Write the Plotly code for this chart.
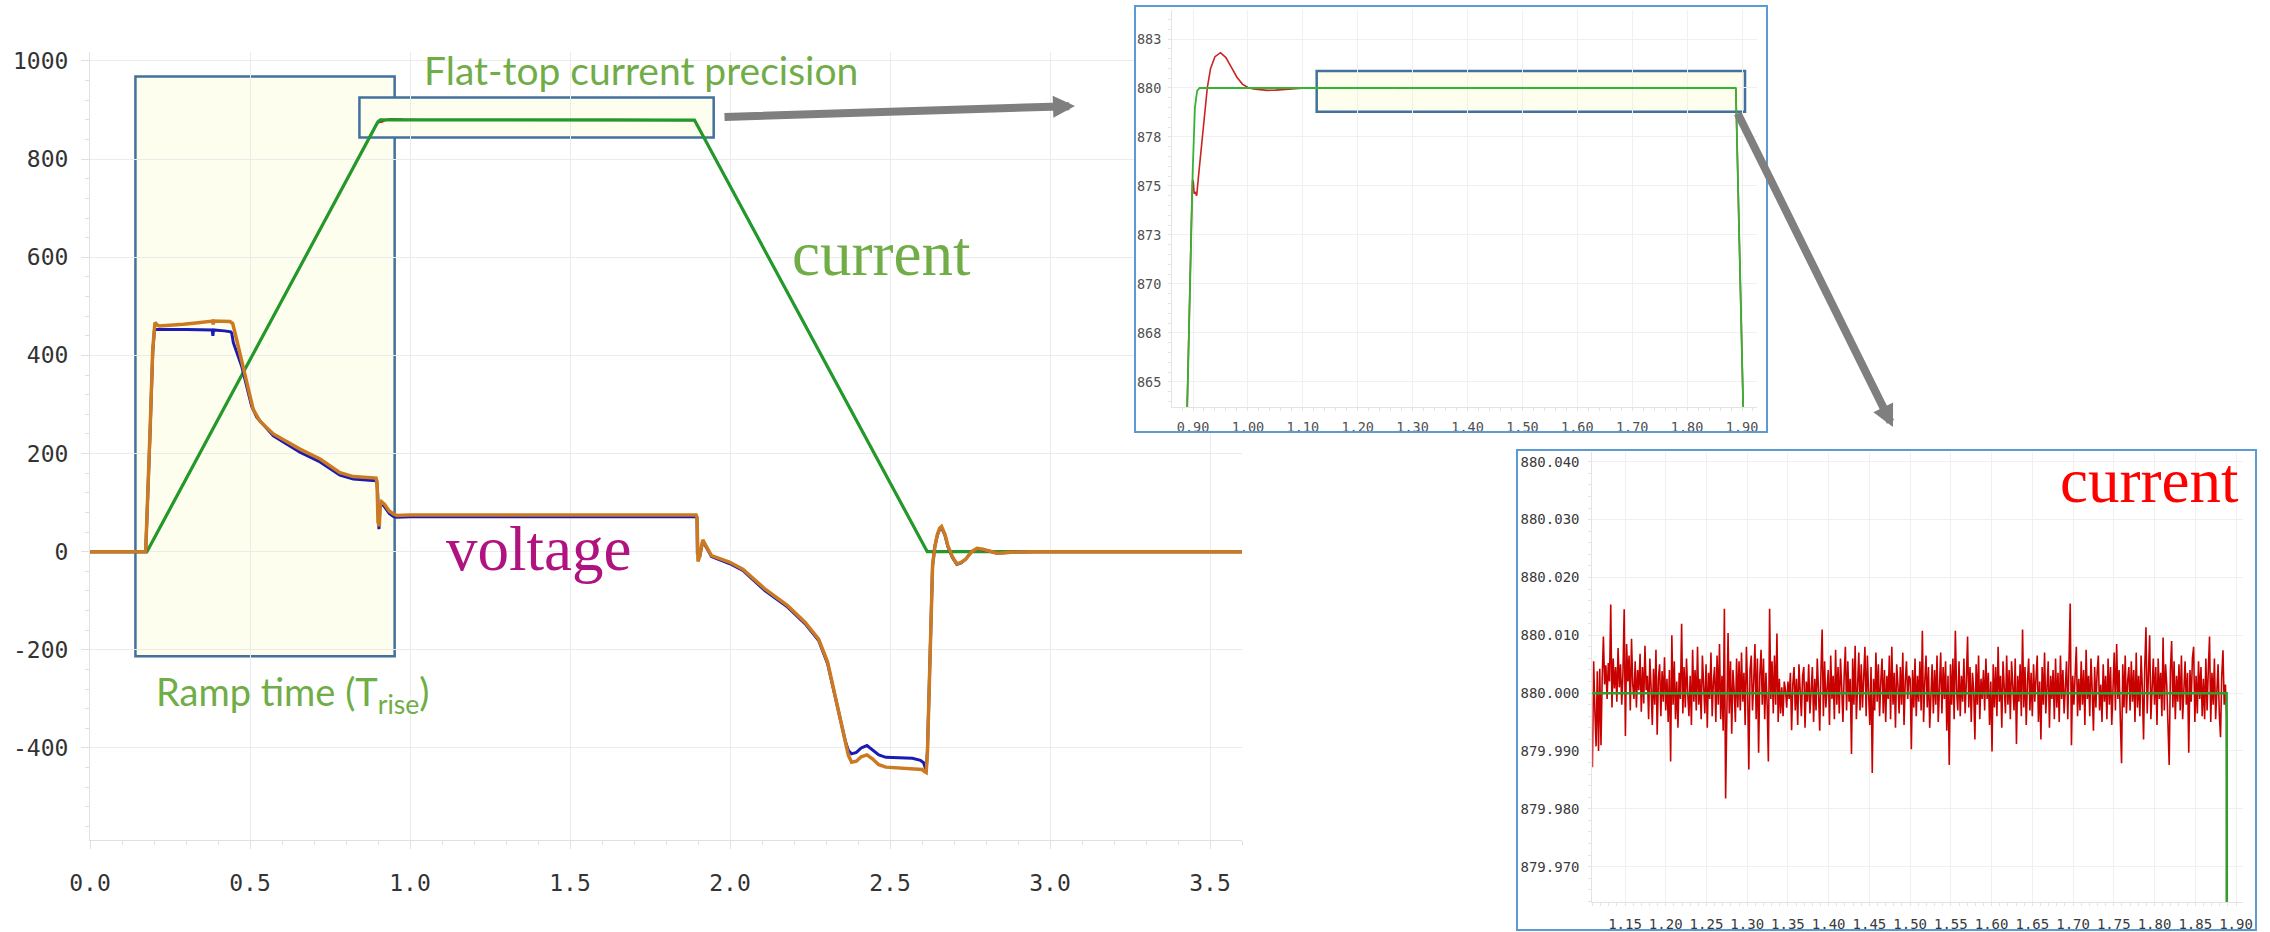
import plotly.graph_objects as go

W, H = 2270, 932

# ---------------- reference (set-point) current, A ----------------
ref_t = [0.0, 0.178, 0.8995, 0.9035, 0.9075, 0.912, 1.8885, 1.8887, 1.8890, 2.6165, 3.6]
ref_i = [0.0, 0.0, 875.8, 879.0, 879.85, 880.0, 880.0, 879.985, 879.6, 0.0, 0.0]

# ---------------- measured current, A ----------------
# rising edge and settling
rise_t = [0.0, 0.178, 0.8977, 0.8992, 0.9006, 0.9021, 0.9036, 0.9067, 0.9097, 0.9128,
          0.919, 0.926, 0.932, 0.940, 0.950, 0.960, 0.970, 0.980, 0.990, 1.000,
          1.010, 1.020, 1.035, 1.050, 1.065, 1.080, 1.095, 1.105]
rise_i = [0.0, 0.0, 873.9, 875.3, 875.2, 874.6, 874.7, 874.5, 875.4, 876.3,
          878.0, 880.0, 881.0, 881.6, 881.8, 881.55, 881.05, 880.55, 880.2, 880.03,
          879.95, 879.91, 879.88, 879.89, 879.93, 879.97, 879.99, 880.0]

# flat-top samples: deviation from 880 A in mA, one sample every 1.5 ms from t = 1.110 s
flat_t0 = 1.110
flat_dt = 0.0015
flat_level = 880.0
flat_dev_mA = [
    -12.8, 5.5, -3.0, -9.2, 3.8, -10.0, 4.2, -9.0, 2.5, 9.8, 1.5, 4.8, -1.0, 5.2, 2.0, 15.3, -2.5, 6.0, 0.8, 4.5,
    -1.5, 7.8, 1.0, 5.0, -2.0, 3.5, 14.5, -7.4, 8.5, 2.0, 6.5, -3.0, 9.4, 1.5, -1.0, 5.5, -2.5, 4.0, 0.5, 6.8,
    -3.2, 4.5, -1.8, 8.2, 0.5, 3.0, -4.5, 6.0, 1.0, -5.5, 4.2, -2.0, 7.5, -7.2, 2.5, 5.0, -4.0, 3.8, -1.5, 6.2,
    -3.0, 2.5, -5.0, 4.0, -11.8, 10.0, -2.0, 5.5, -4.5, 2.0, -6.0, 3.5, -1.0, 12.0, -3.5, 4.5, -2.5, 6.0, 0.0, -4.0,
    3.0, -5.5, 7.5, -1.5, 4.0, -3.0, 8.0, -2.0, 2.5, -4.5, 6.5, 0.5, -3.5, 5.0, -6.0, 3.5, -1.0, 7.0, -4.0, 2.0,
    4.5, -5.0, 6.5, -2.0, 8.5, -4.5, 3.0, -6.5, 14.6, -18.2, 2.0, 10.4, -3.5, 5.5, -7.0, 4.0, 0.5, -5.0, 6.0, -2.5,
    5.5, -3.0, 7.0, -1.5, 3.5, -5.5, 8.0, 1.0, -13.2, 4.0, 6.5, -3.0, 2.0, 8.5, -4.5, 6.0, -10.3, 3.0, 7.5, -2.0,
    6.0, -4.5, 3.5, -2.0, -11.8, 14.6, -1.0, 5.5, -3.5, 6.5, -2.0, 10.3, -5.0, 2.5, -3.5, 1.0, -4.0, 2.0, 0.5, -2.5,
    2.0, -1.0, 3.5, -6.4, 1.5, 4.5, -3.0, 2.5, -5.5, 5.0, 0.5, -4.0, 3.0, 4.5, -6.0, 2.0, -1.5, 5.0, -3.5, 1.0,
    4.5, -5.0, 2.5, -3.0, 6.0, 0.5, -6.5, 3.5, 11.0, -4.0, 5.5, -2.5, 1.0, 4.0, -5.5, 6.5, -1.0, 3.0, -4.5, 7.5,
    -2.0, 4.5, -3.5, 6.0, 1.0, -5.0, 3.0, 8.0, -3.0, 5.5, -1.5, 2.5, -10.5, 6.0, -2.0, 8.2, -4.5, 3.5, 7.0, -3.0,
    5.0, -2.5, 3.5, 8.0, -4.0, 6.5, 0.0, -5.5, 4.5, -13.8, 2.5, -3.0, 7.0, -1.5, 5.0, -4.0, 2.0, 6.0, -3.5, 4.0,
    -5.0, 3.0, -1.0, 6.5, -4.5, 8.0, -2.0, 3.5, -6.0, 5.0, 1.5, -3.5, 4.5, -2.0, 7.0, -5.5, 2.0, 5.5, -1.0, 3.0,
    2.5, -9.7, 4.0, -2.5, 6.0, -4.0, 3.0, -1.5, 5.5, -3.0, 10.8, -5.0, 2.0, 6.5, -2.5, 4.5, -6.0, 1.0, 5.0, -3.5,
    4.0, -2.0, 6.5, -5.0, 2.5, 7.0, -3.5, 4.5, -1.0, 5.5, -6.5, 3.0, -12.4, 5.0, -2.0, 6.0, -4.5, 10.8, 0.5, -3.0,
    5.5, -4.0, 3.0, -1.5, 6.0, -3.5, 2.0, 9.8, -2.5, 4.5, -5.0, 3.5, 0.5, -8.0, 5.0, -2.0, 6.5, -4.5, 2.5, -1.0,
    4.0, -3.0, 6.0, -1.0, 3.5, -5.5, 2.0, -10.1, 5.0, -2.5, 4.5, -4.0, 8.0, -1.5, 3.0, -6.0, 5.5, 1.0, -3.5, 6.5,
    -2.0, 4.0, -4.5, 5.5, 0.5, -3.0, 6.0, -8.8, 3.0, -1.5, 5.0, -4.0, 11.0, -2.5, 4.5, -5.5, 2.0, 6.0, -3.0, 3.5,
    -4.0, 5.0, -1.5, 3.5, 6.5, -5.0, 2.0, -8.0, 4.5, -2.0, 7.0, -3.5, 1.0, 5.5, -6.0, 3.0, -1.0, 4.0, -4.5, 6.0,
    -2.5, 3.5, -5.0, 6.5, -1.0, 4.0, -3.5, 2.5, 5.5, -4.5, 7.0, 15.5, -9.0, 3.0, -2.0, 5.0, 8.0, -4.0, 2.5, -3.0,
    5.5, -2.0, 4.0, -5.5, 7.5, -1.0, 3.0, -4.0, 6.0, 0.5, -6.5, 4.5, -2.5, 3.5, 6.5, -3.0, 1.5, -5.0, 5.0, -1.5,
    3.0, -4.5, 6.0, -2.0, 4.5, -5.5, 2.5, 7.0, -3.0, 8.5, -1.0, 4.0, -4.5, -12.1, 5.0, -2.5, 6.5, -3.5, 2.0, 4.5,
    -3.0, 5.5, -1.5, 4.0, -5.0, 7.0, -2.5, 3.0, -4.0, 6.5, 1.0, -8.0, 4.5, 11.4, -3.5, 5.0, 10.0, -4.5, 2.5, 6.0,
    -2.0, 4.5, -5.5, 6.0, -1.0, 3.5, -4.0, 9.6, -3.0, 5.0, 1.5, -6.5, -12.4, 4.0, 9.0, -2.5, 5.5, -4.5, 3.0, -1.5,
    5.0, -3.0, 6.5, -4.5, 2.0, 5.5, -2.0, 3.5, -10.3, 4.0, -1.5, 6.0, 8.0, -5.0, 3.0, -3.5, 5.5, -1.0, 4.5, -4.0,
    2.5, -4.5, 6.0, -3.0, 4.0, 9.8, -5.0, 3.5, -2.0, 6.0, -4.5, 2.0, 5.0, -3.5, -7.6, 3.0, 7.4, -2.0, 1.5, -4.5,
]

# falling edge
fall_t = [1.8888, 1.8892, 2.616, 3.6]
fall_i = [879.97, 879.4, 0.0, 0.0]

# ---------------- magnet voltage, V ----------------
vset_t = [0.0, 0.174, 0.1875, 0.196, 0.201, 0.206, 0.30, 0.38, 0.382, 0.384, 0.386, 0.42, 0.44, 0.443, 0.448,
          0.474, 0.49, 0.505, 0.521, 0.573, 0.656, 0.719, 0.781, 0.823, 0.893, 0.896, 0.899, 0.903, 0.906,
          0.911, 0.92, 0.935, 0.948, 0.958, 1.0, 1.5, 1.894, 1.897, 1.898, 1.900, 1.905, 1.915, 1.925, 1.942,
          1.998, 2.04, 2.109, 2.18, 2.235, 2.277, 2.305, 2.333, 2.36, 2.37, 2.38, 2.395, 2.41, 2.428, 2.445,
          2.465, 2.487, 2.53, 2.57, 2.595, 2.605, 2.613, 2.617, 2.633, 2.640, 2.648, 2.655, 2.661, 2.672,
          2.681, 2.695, 2.709, 2.722, 2.737, 2.755, 2.772, 2.79, 2.806, 2.835, 2.88, 2.95, 3.6]
vset_v = [0, 0, 238, 405, 450, 453, 453, 452, 452, 440, 452, 450, 448, 445, 426,
          378, 338, 297, 274, 236, 203, 183, 156, 148, 144.5, 144, 120, 46, 90,
          98, 92, 78, 72, 70, 71, 71, 71, 68, -5, 0, -12, 22, 10, -10,
          -24, -38, -79, -113, -147, -181, -228, -308, -385, -405, -412, -409, -400, -395, -403,
          -414, -419, -420, -421, -425, -430, -446, -405, -29, 10, 33, 46, 49, 33,
          10, -12, -26, -23, -15, 0, 6, 4.5, 2, -3, -1, 0, 0]

vmeas_t = [0.0, 0.174, 0.1875, 0.196, 0.203, 0.210, 0.217, 0.25, 0.292, 0.33, 0.375, 0.383, 0.385, 0.387,
           0.4375, 0.446, 0.458, 0.479, 0.495, 0.51, 0.531, 0.573, 0.656, 0.719, 0.781, 0.823, 0.894,
           0.897, 0.900, 0.904, 0.907, 0.911, 0.920, 0.935, 0.948, 0.958, 1.0, 1.5, 1.894, 1.897, 1.900,
           1.905, 1.915, 1.925, 1.942, 1.998, 2.04, 2.109, 2.18, 2.235, 2.277, 2.305, 2.333, 2.36, 2.37,
           2.38, 2.395, 2.41, 2.428, 2.445, 2.465, 2.487, 2.53, 2.57, 2.6, 2.608, 2.613, 2.617, 2.633,
           2.640, 2.648, 2.655, 2.661, 2.672, 2.681, 2.695, 2.709, 2.722, 2.737, 2.755, 2.772, 2.79,
           2.806, 2.835, 2.88, 2.95, 3.6]
vmeas_v = [0, 0, 243, 412, 467, 462, 460, 461, 463.5, 466, 469, 470, 463, 470,
           469, 465, 433, 378, 331, 290, 266, 240, 209, 189, 161, 153, 150,
           140, 60, 52, 95, 102, 97, 83, 77, 74, 75, 75, 75, 70, -20,
           -10, 24, 12, -8, -21, -35.5, -76, -110, -144, -178, -225, -307, -388, -415,
           -429, -427, -418, -414, -422, -434, -439, -441, -443, -444, -448, -450, -410, -29,
           10, 35, 48, 51.5, 35, 12, -10, -25, -22, -15, 0, 6.7, 5,
           2, -3, -1, 0, 0]

# ---------------- tick labels ----------------
main_xticks = [0.0, 0.5, 1.0, 1.5, 2.0, 2.5, 3.0, 3.5]
main_xlabels = ["0.0", "0.5", "1.0", "1.5", "2.0", "2.5", "3.0", "3.5"]
main_yticks = [-400, -200, 0, 200, 400, 600, 800, 1000]
main_ylabels = ["-400", "-200", "0", "200", "400", "600", "800", "1000"]

z1_xticks = [0.9, 1.0, 1.1, 1.2, 1.3, 1.4, 1.5, 1.6, 1.7, 1.8, 1.9]
z1_xlabels = ["0.90", "1.00", "1.10", "1.20", "1.30", "1.40", "1.50", "1.60", "1.70", "1.80", "1.90"]
z1_yticks = [865, 867.5, 870, 872.5, 875, 877.5, 880, 882.5]
z1_ylabels = ["865", "868", "870", "873", "875", "878", "880", "883"]

z2_xticks = [1.15, 1.20, 1.25, 1.30, 1.35, 1.40, 1.45, 1.50, 1.55, 1.60, 1.65, 1.70, 1.75, 1.80, 1.85, 1.90]
z2_xlabels = ["1.15", "1.20", "1.25", "1.30", "1.35", "1.40", "1.45", "1.50",
              "1.55", "1.60", "1.65", "1.70", "1.75", "1.80", "1.85", "1.90"]
z2_yticks = [879.97, 879.98, 879.99, 880.00, 880.01, 880.02, 880.03, 880.04]
z2_ylabels = ["879.970", "879.980", "879.990", "880.000", "880.010", "880.020", "880.030", "880.040"]

# assemble the measured current record
flat_t = [flat_t0 + flat_dt * k for k in range(len(flat_dev_mA))]
flat_i = [flat_level + d / 1000.0 for d in flat_dev_mA]
meas_t = rise_t + flat_t + fall_t
meas_i = rise_i + flat_i + fall_i

# ---------------- styling ----------------
C_RED = "#cc1a1a"
C_GREEN = "#22992a"
C_BLUE = "#1a1ab4"
C_ORANGE = "#cc7a22"
TXT_GREEN = "#70ad47"
BOX_LINE = "#41719c"
BOX_FILL = "#fefeee"
FRAME = "#5b9bd5"
MONO = "DejaVu Sans Mono"


def px(x):
    return x / W


def py(y):
    return 1 - y / H


def axis(domain, rng, tickvals, ticktext, size, color, grid, line, ticklen,
         minor_tick0, minor_dtick, minor_len, standoff):
    return dict(
        domain=domain, range=rng, tickmode="array", tickvals=tickvals, ticktext=ticktext,
        showgrid=True, gridcolor=grid, gridwidth=1, zeroline=False,
        showline=True, linecolor=line, linewidth=1,
        ticks="outside", ticklen=ticklen, tickcolor=line, tickwidth=1,
        tickfont=dict(family=MONO, size=size, color=color),
        ticklabelstandoff=standoff, automargin=False,
        minor=dict(tickmode="linear", tick0=minor_tick0, dtick=minor_dtick, ticks="outside",
                   ticklen=minor_len, tickcolor=line, showgrid=False),
        fixedrange=True,
    )


fig = go.Figure()

# main window
fig.add_trace(go.Scatter(x=meas_t, y=meas_i, mode="lines", line=dict(color=C_RED, width=2),
                         xaxis="x", yaxis="y", hoverinfo="skip"))
fig.add_trace(go.Scatter(x=ref_t, y=ref_i, mode="lines", line=dict(color=C_GREEN, width=3.2),
                         xaxis="x", yaxis="y", hoverinfo="skip"))
fig.add_trace(go.Scatter(x=vset_t, y=vset_v, mode="lines", line=dict(color=C_BLUE, width=3),
                         xaxis="x", yaxis="y", hoverinfo="skip"))
fig.add_trace(go.Scatter(x=vmeas_t, y=vmeas_v, mode="lines", line=dict(color=C_ORANGE, width=3.5),
                         xaxis="x", yaxis="y", hoverinfo="skip"))

# backing panel for the first zoom window (covers the main grid)
fig.add_trace(go.Scatter(x=[None], y=[None], mode="lines", xaxis="x2", yaxis="y2", hoverinfo="skip"))

# zoom 1: flat-top entry
fig.add_trace(go.Scatter(x=meas_t, y=meas_i, mode="lines", line=dict(color="#cc2222", width=1.6),
                         xaxis="x3", yaxis="y3", hoverinfo="skip"))
fig.add_trace(go.Scatter(x=ref_t, y=ref_i, mode="lines", line=dict(color="#33b533", width=1.8),
                         xaxis="x3", yaxis="y3", hoverinfo="skip"))

# zoom 2: flat-top ripple
fig.add_trace(go.Scatter(x=meas_t, y=meas_i, mode="lines", line=dict(color="#c80000", width=1.6),
                         xaxis="x4", yaxis="y4", hoverinfo="skip"))
fig.add_trace(go.Scatter(x=ref_t, y=ref_i, mode="lines", line=dict(color="#2e9e2e", width=2.5),
                         xaxis="x4", yaxis="y4", hoverinfo="skip"))

layout = dict(
    width=W, height=H, margin=dict(l=0, r=0, t=0, b=0, autoexpand=False),
    paper_bgcolor="white", plot_bgcolor="white", showlegend=False, hovermode=False,
    xaxis=axis([px(90), px(1242)], [0, 3.6], main_xticks, main_xlabels, 23, "#333333",
               "#ebebeb", "#e0e0e0", 8, 0, 0.1, 4, 14),
    yaxis=axis([py(840), py(52)], [-587.5, 1018.3], main_yticks, main_ylabels, 23, "#333333",
               "#ebebeb", "#e0e0e0", 8, 0, 40, 4, 8),
    xaxis2=dict(domain=[px(1135), px(1767)], range=[0, 1], visible=False, fixedrange=True,
                anchor="y2", automargin=False),
    yaxis2=dict(domain=[py(432), py(6)], range=[0, 1], visible=False, fixedrange=True,
                anchor="x2", automargin=False),
    xaxis3=axis([px(1172), px(1757)], [0.86175, 1.92732], z1_xticks, z1_xlabels, 13.5, "#505050",
                "#f0f0f0", "#e3e3e3", 3, 0.9, 0.02, 3, 5),
    yaxis3=axis([py(407), py(10)], [863.72, 883.98], z1_yticks, z1_ylabels, 13.5, "#505050",
                "#f0f0f0", "#e3e3e3", 3, 865, 0.5, 3, 4),
    xaxis4=axis([px(1592.3), px(2242.7)], [1.10986, 1.90822], z2_xticks, z2_xlabels, 14, "#3a3a3a",
                "#f0f0f0", "#e3e3e3", 3, 1.15, 0.01, 3, 6),
    yaxis4=axis([py(901.7), py(452)], [879.96395, 880.04168], z2_yticks, z2_ylabels, 14, "#3a3a3a",
                "#f0f0f0", "#e3e3e3", 3, 879.97, 0.002, 3, 6),
)
layout["xaxis3"]["anchor"] = "y3"
layout["yaxis3"]["anchor"] = "x3"
layout["xaxis4"]["anchor"] = "y4"
layout["yaxis4"]["anchor"] = "x4"

shapes = [
    # ramp-time window
    dict(type="rect", xref="x", yref="y", x0=0.142, x1=0.952, y0=-213, y1=968.6,
         fillcolor=BOX_FILL, line=dict(color=BOX_LINE, width=2.5), layer="below"),
    # flat-top window
    dict(type="rect", xref="x", yref="y", x0=0.842, x1=1.949, y0=844.3, y1=925.8,
         fillcolor=BOX_FILL, line=dict(color=BOX_LINE, width=2.5), layer="below"),
    # flat-top window inside zoom 1
    dict(type="rect", xref="x3", yref="y3", x0=1.1253, x1=1.9055, y0=878.79, y1=880.87,
         fillcolor=BOX_FILL, line=dict(color=BOX_LINE, width=2.5), layer="below"),
    # frames of the zoom windows
    dict(type="rect", xref="paper", yref="paper", x0=px(1135), x1=px(1767), y0=py(432), y1=py(6),
         line=dict(color=FRAME, width=2), layer="above"),
    dict(type="rect", xref="paper", yref="paper", x0=px(1517), x1=px(2256), y0=py(930), y1=py(450),
         line=dict(color=FRAME, width=2), layer="above"),
]

annotations = [
    dict(text="Flat-top current precision", xref="paper", yref="paper", x=px(422), y=py(70),
         xanchor="left", yanchor="middle", showarrow=False,
         font=dict(family="Lato", size=39, color=TXT_GREEN)),
    dict(text="Ramp time (T<sub>rise</sub>)", xref="paper", yref="paper", x=px(154), y=py(694),
         xanchor="left", yanchor="middle", showarrow=False,
         font=dict(family="Lato", size=38, color=TXT_GREEN)),
    dict(text="voltage", xref="paper", yref="paper", x=px(444), y=py(549),
         xanchor="left", yanchor="middle", showarrow=False,
         font=dict(family="Liberation Serif", size=63, color="#b0127f")),
    dict(text="current", xref="paper", yref="paper", x=px(790), y=py(254),
         xanchor="left", yanchor="middle", showarrow=False,
         font=dict(family="Liberation Serif", size=63, color=TXT_GREEN)),
    dict(text="current", xref="paper", yref="paper", x=px(2058), y=py(481),
         xanchor="left", yanchor="middle", showarrow=False,
         font=dict(family="Liberation Serif", size=63, color="#ff0000")),
    # pointers from the windows to their zoomed views
    dict(text="", xref="paper", yref="paper", x=px(1075), y=py(106), ax=723 - 1075, ay=117 - 106,
         showarrow=True, arrowhead=2, arrowsize=0.55, arrowwidth=8, arrowcolor="#7f7f7f", standoff=0),
    dict(text="", xref="paper", yref="paper", x=px(1893), y=py(427), ax=1737 - 1893, ay=112 - 427,
         showarrow=True, arrowhead=2, arrowsize=0.55, arrowwidth=8, arrowcolor="#7f7f7f", standoff=0),
]

layout["shapes"] = shapes
layout["annotations"] = annotations
fig.update_layout(**layout)

fig.write_html("out.html")
